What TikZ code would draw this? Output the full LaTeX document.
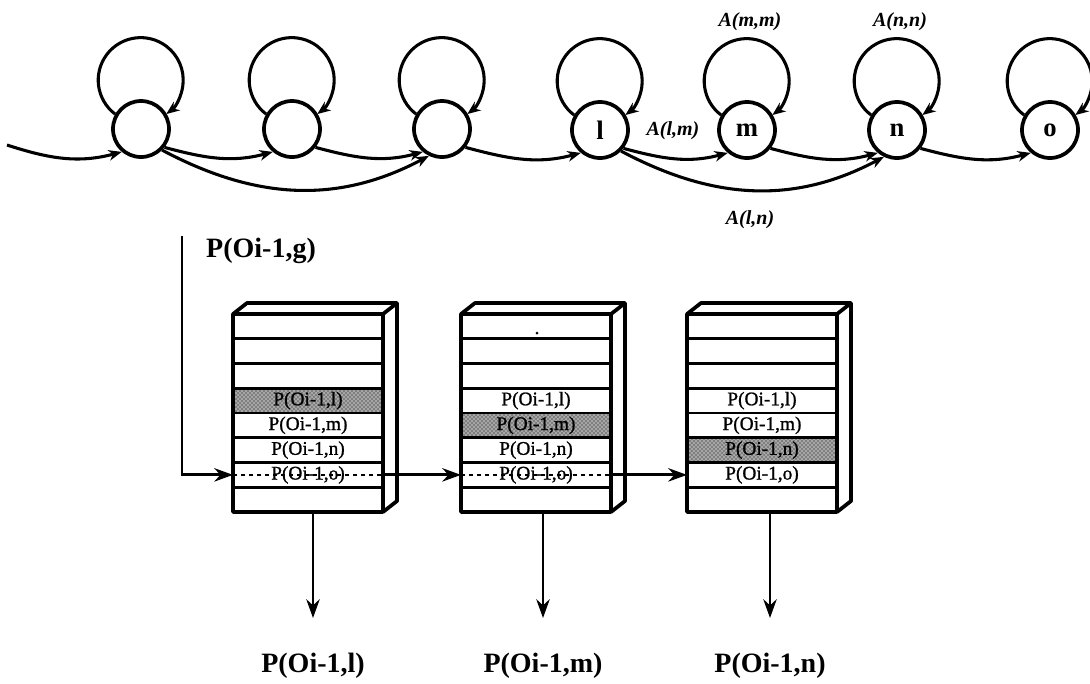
\documentclass[tikz,border=0pt]{standalone}
\usepackage{fontspec}
\setmainfont{Liberation Serif}
\newfontfamily\cellfont[FakeBold=1]{Liberation Serif}
\usetikzlibrary{arrows.meta, positioning, patterns}

\begin{document}
\begin{tikzpicture}[x=0.75pt, y=0.75pt, line width=2.3pt,
  >={Stealth[length=10pt, width=8pt]},
  state/.style={draw, circle, line width=2.8pt, minimum size=42pt, inner sep=0pt,
    font=\fontsize{20}{20}\selectfont\bfseries},
  trans/.style={->, out=-15, in=195},
  skip/.style={->, out=-28, in=208},
  prob/.style={font=\fontsize{15}{16}\selectfont\bfseries\itshape},
  row/.style={draw, line width=2pt, minimum width=112.5pt, minimum height=18.56pt,
    inner sep=0pt, outer sep=0pt, font=\cellfont\fontsize{14.5}{15}\selectfont},
  hatched/.style={fill=black!35, postaction={pattern=crosshatch dots}},
  frame/.style={line width=2.8pt, line join=round},
  big arrow/.style={-{Stealth[length=14pt, width=10pt]}, line width=2.2pt},
  outlbl/.style={font=\fontsize{21}{23}\selectfont\bfseries}]

\useasboundingbox (0,0) rectangle (1090,-683);

% States (y in px, measured downwards)
\node[state] (s1) at (141,-129) {};
\node[state] (s2) at (292,-129) {};
\node[state] (s3) at (442,-129) {};
\node[state] (l) at (600,-130) {l};
\node[state] (m) at (747,-130) {m};
\node[state] (n) at (897,-130) {n};
\node[state] (o) at (1050,-130) {o};

% Self loops
\foreach \s in {s1,s2,s3,l,m,n,o}
  \draw[->] (\s.150) arc[start angle=233, end angle=-53, radius=42.5];

% Entering transition
\coordinate (entry) at (7,-145);
\draw[->] (entry) to[out=-18, in=195] (s1.-130);

% Next-state transitions
\draw[trans] (s1.-38) to (s2.-130);
\draw[trans] (s2.-38) to (s3.-130);
\draw[trans] (s3.-38) to (l.-130);
\draw[trans] (l.-38) to (m.-130);
\draw[trans] (m.-38) to (n.-130);
\draw[trans] (n.-38) to (o.-130);

% Skip transitions
\draw[skip] (s1.-45) to (s3.-116);
\draw[skip] (l.-45) to (n.-116);

% Transition probabilities
\node[prob] (amm) at (750,-22) {A(m,m)};
\node[prob] (ann) at (900,-22) {A(n,n)};
\node[prob] (alm) at (673,-131) {A(l,m)};
\node[prob] (aln) at (750,-220) {A(l,n)};

% Incoming probability
\node[outlbl] (pg) at (261,-251) {P(Oi-1,g)};
\coordinate (gtop) at (182,-236);

% Box 1
\node[row] (b1r1) at (308,-326.4) {};
\node[row, below=0pt of b1r1] (b1r2) {};
\node[row, below=0pt of b1r2] (b1r3) {};
\node[row, hatched, below=0pt of b1r3] (b1l) {P(Oi-1,l)};
\node[row, below=0pt of b1l] (b1m) {P(Oi-1,m)};
\node[row, below=0pt of b1m] (b1n) {P(Oi-1,n)};
\node[row, below=0pt of b1n] (b1o) {P(Oi-1,o)};
\node[row, below=0pt of b1o] (b1r8) {};
\draw[frame] (b1r1.north west) rectangle (b1r8.south east);
\draw[frame] (b1r8.south east) -- ++(14,11) -- ++(0,198) -- ++(-150,0) -- (b1r1.north west);
\draw[frame] (b1r1.north east) -- ++(14,11);
\draw[dashed, line width=1.5pt] (b1o.west) -- (b1o.east);

% Box 2
\node[row] (b2r1) at (536,-326.4) {};
\node[row, below=0pt of b2r1] (b2r2) {};
\node[row, below=0pt of b2r2] (b2r3) {};
\node[row, below=0pt of b2r3] (b2l) {P(Oi-1,l)};
\node[row, hatched, below=0pt of b2l] (b2m) {P(Oi-1,m)};
\node[row, below=0pt of b2m] (b2n) {P(Oi-1,n)};
\node[row, below=0pt of b2n] (b2o) {P(Oi-1,o)};
\node[row, below=0pt of b2o] (b2r8) {};
\draw[frame] (b2r1.north west) rectangle (b2r8.south east);
\draw[frame] (b2r8.south east) -- ++(14,11) -- ++(0,198) -- ++(-150,0) -- (b2r1.north west);
\draw[frame] (b2r1.north east) -- ++(14,11);
\draw[dashed, line width=1.5pt] (b2o.west) -- (b2o.east);
\fill (537,-333) circle (1.5);

% Box 3
\node[row] (b3r1) at (762,-326.4) {};
\node[row, below=0pt of b3r1] (b3r2) {};
\node[row, below=0pt of b3r2] (b3r3) {};
\node[row, below=0pt of b3r3] (b3l) {P(Oi-1,l)};
\node[row, below=0pt of b3l] (b3m) {P(Oi-1,m)};
\node[row, hatched, below=0pt of b3m] (b3n) {P(Oi-1,n)};
\node[row, below=0pt of b3n] (b3o) {P(Oi-1,o)};
\node[row, below=0pt of b3o] (b3r8) {};
\draw[frame] (b3r1.north west) rectangle (b3r8.south east);
\draw[frame] (b3r8.south east) -- ++(14,11) -- ++(0,198) -- ++(-150,0) -- (b3r1.north west);
\draw[frame] (b3r1.north east) -- ++(14,11);

% Flow through the boxes
\draw[big arrow] (gtop) |- (b1o.west);
\draw[big arrow] (b1o.east) -- (b2o.west);
\draw[big arrow] (b2o.east) -- (b3o.west);

% Outputs
\node[outlbl] (out1) at (313,-666) {P(Oi-1,l)};
\node[outlbl] (out2) at (543,-666) {P(Oi-1,m)};
\node[outlbl] (out3) at (770,-666) {P(Oi-1,n)};
\draw[big arrow, shorten >=22pt] (b1r8.south -| out1) -- (out1.north);
\draw[big arrow, shorten >=22pt] (b2r8.south -| out2) -- (out2.north);
\draw[big arrow, shorten >=22pt] (b3r8.south -| out3) -- (out3.north);

\end{tikzpicture}
\end{document}
